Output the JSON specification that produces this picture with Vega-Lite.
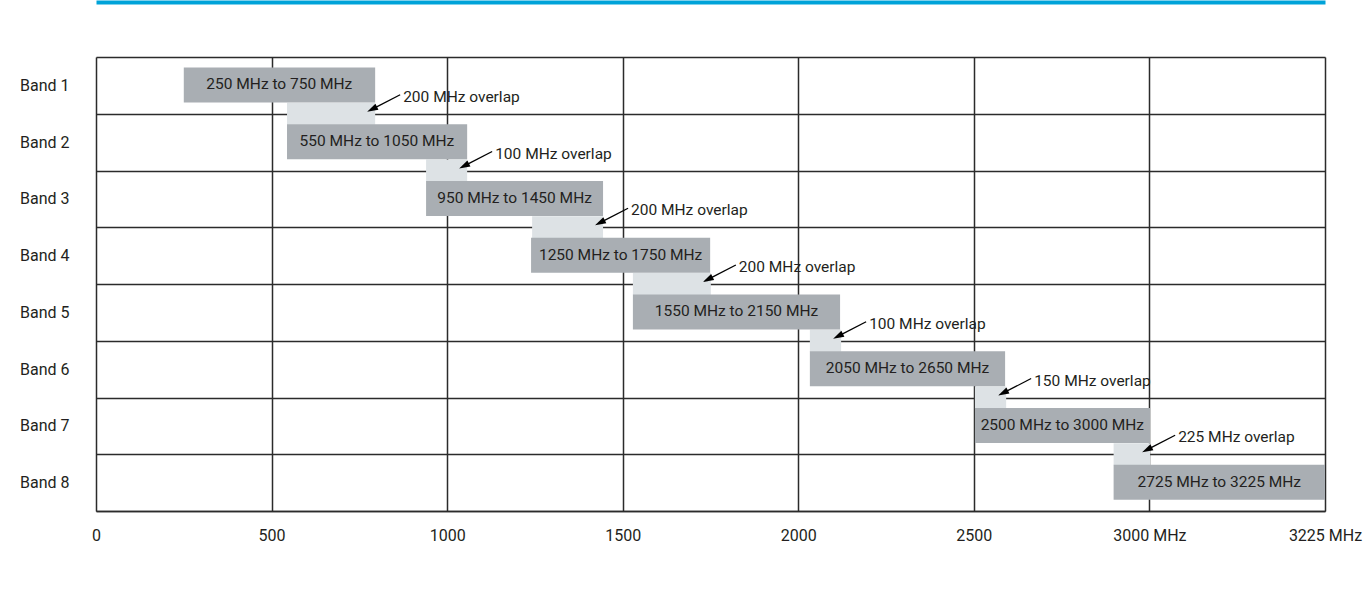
{
  "$schema": "https://vega.github.io/schema/vega-lite/v6.json",
  "width": 1229,
  "height": 454,
  "autosize": "none",
  "padding": {"left": 96, "top": 57, "right": 46, "bottom": 81},
  "background": "white",
  "config": {
    "view": {"stroke": null},
    "font": "Roboto",
    "text": {"font": "Roboto"}
  },
  "datasets": {
    "bands": [
      {"band": "Band 1", "start": 250, "end": 795, "mid": 522, "label": "250 MHz to 750 MHz"},
      {"band": "Band 2", "start": 544, "end": 1057, "mid": 800, "label": "550 MHz to 1050 MHz"},
      {"band": "Band 3", "start": 940, "end": 1444, "mid": 1192, "label": "950 MHz to 1450 MHz"},
      {"band": "Band 4", "start": 1239, "end": 1749, "mid": 1494, "label": "1250 MHz to 1750 MHz"},
      {"band": "Band 5", "start": 1529, "end": 2119, "mid": 1824, "label": "1550 MHz to 2150 MHz"},
      {"band": "Band 6", "start": 2033, "end": 2589, "mid": 2311, "label": "2050 MHz to 2650 MHz"},
      {"band": "Band 7", "start": 2503, "end": 3002, "mid": 2752, "label": "2500 MHz to 3000 MHz"},
      {"band": "Band 8", "start": 2898, "end": 3500, "mid": 3199, "label": "2725 MHz to 3225 MHz"}
    ],
    "overlaps": [
      {"band": "Band 1", "ovStart": 544, "ovEnd": 795, "ovLabel": "200 MHz overlap"},
      {"band": "Band 2", "ovStart": 940, "ovEnd": 1057, "ovLabel": "100 MHz overlap"},
      {"band": "Band 3", "ovStart": 1242, "ovEnd": 1444, "ovLabel": "200 MHz overlap"},
      {"band": "Band 4", "ovStart": 1529, "ovEnd": 1751, "ovLabel": "200 MHz overlap"},
      {"band": "Band 5", "ovStart": 2033, "ovEnd": 2122, "ovLabel": "100 MHz overlap"},
      {"band": "Band 6", "ovStart": 2503, "ovEnd": 2592, "ovLabel": "150 MHz overlap"},
      {"band": "Band 7", "ovStart": 2898, "ovEnd": 3002, "ovLabel": "225 MHz overlap"}
    ]
  },
  "resolve": {"axis": {"x": "independent"}},
  "encoding": {
    "y": {
      "field": "band",
      "type": "nominal",
      "title": null,
      "scale": {"domain": ["Band 1", "Band 2", "Band 3", "Band 4", "Band 5", "Band 6", "Band 7", "Band 8"], "paddingInner": 0, "paddingOuter": 0},
      "axis": {
        "domain": false,
        "ticks": false,
        "grid": true,
        "tickBand": "extent",
        "gridColor": "#2b2b2b",
        "gridWidth": 1.5,
        "gridOpacity": 1,
        "labelFontSize": 16,
        "labelColor": "#231f20",
        "labelPadding": 27,
        "labelFont": "Roboto"
      }
    }
  },
  "layer": [
    {
      "data": {"name": "bands"},
      "mark": {"type": "bar", "opacity": 0},
      "encoding": {
        "x": {
          "field": "start",
          "type": "quantitative",
          "title": null,
          "scale": {"domain": [0, 3500], "nice": false, "zero": false},
          "axis": {
            "values": [0, 500, 1000, 1500, 2000, 2500, 3000, 3500],
            "labelExpr": "datum.value == 3000 ? '3000 MHz' : datum.value == 3500 ? '3225 MHz' : datum.value",
            "grid": true,
            "gridColor": "#2b2b2b",
            "gridWidth": 1.5,
            "gridOpacity": 1,
            "domain": true,
            "domainColor": "#2b2b2b",
            "domainWidth": 1.5,
            "ticks": false,
            "labelFontSize": 16,
            "labelColor": "#231f20",
            "labelPadding": 16,
            "labelFlush": false,
            "labelOverlap": false,
            "labelFont": "Roboto"
          }
        },
        "x2": {"field": "end"}
      }
    },
    {
      "data": {"name": "bands"},
      "mark": {"type": "bar", "opacity": 0},
      "encoding": {
        "x": {
          "field": "start",
          "type": "quantitative",
          "title": null,
          "axis": {
            "orient": "top",
            "offset": 55,
            "grid": false,
            "ticks": false,
            "labels": false,
            "domain": true,
            "domainColor": "#00a3d9",
            "domainWidth": 4
          }
        },
        "x2": {"field": "end"}
      }
    },
    {
      "data": {"name": "overlaps"},
      "mark": {"type": "bar", "color": "#dde2e5", "height": 22, "yOffset": 28.375},
      "encoding": {
        "x": {"field": "ovStart", "type": "quantitative", "axis": null},
        "x2": {"field": "ovEnd"}
      }
    },
    {
      "data": {"name": "bands"},
      "mark": {"type": "bar", "color": "#a9aeb3", "height": 35, "yOffset": -0.5},
      "encoding": {
        "x": {"field": "start", "type": "quantitative", "axis": null},
        "x2": {"field": "end"}
      }
    },
    {
      "data": {"name": "bands"},
      "mark": {"type": "text", "fontSize": 15.5, "color": "#231f20", "align": "center", "baseline": "middle", "yOffset": -1},
      "encoding": {
        "x": {"field": "mid", "type": "quantitative", "axis": null},
        "text": {"field": "label"}
      }
    },
    {
      "data": {"name": "overlaps"},
      "mark": {"type": "rule", "color": "#000000", "strokeWidth": 1.3, "xOffset": 25, "yOffset": 9.4, "x2Offset": 1, "y2Offset": 21.8},
      "encoding": {
        "x": {"field": "ovEnd", "type": "quantitative", "axis": null},
        "x2": {"field": "ovEnd"},
        "y2": {"field": "band"}
      }
    },
    {
      "data": {"name": "overlaps"},
      "mark": {"type": "point", "shape": "M0,0L-0.3,1L0.3,1Z", "size": 484, "filled": true, "color": "#000000", "opacity": 1, "strokeWidth": 0, "angle": 242.7, "xOffset": -8, "yOffset": 26.4},
      "encoding": {
        "x": {"field": "ovEnd", "type": "quantitative", "axis": null}
      }
    },
    {
      "data": {"name": "overlaps"},
      "mark": {"type": "text", "fontSize": 15.5, "color": "#231f20", "align": "left", "baseline": "middle", "xOffset": 28, "yOffset": 11.4},
      "encoding": {
        "x": {"field": "ovEnd", "type": "quantitative", "axis": null},
        "text": {"field": "ovLabel"}
      }
    }
  ]
}
